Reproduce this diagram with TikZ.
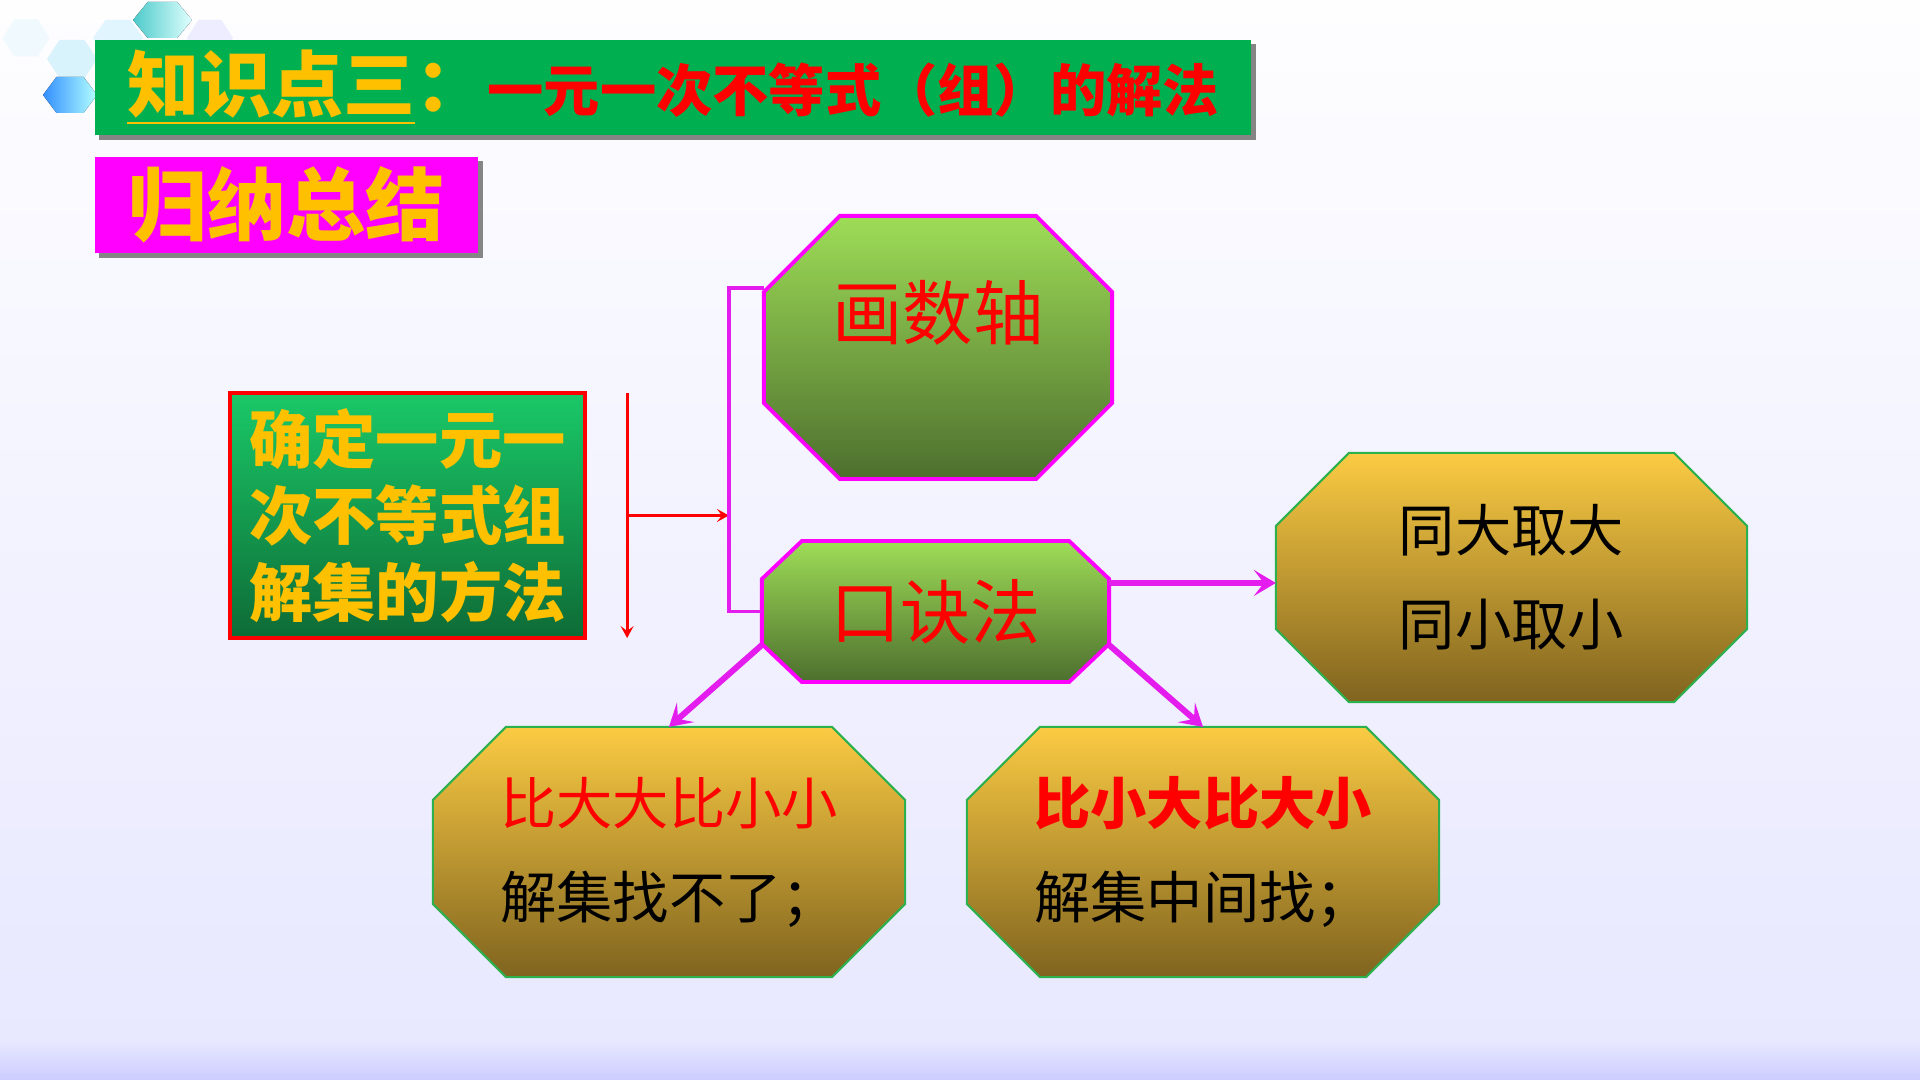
\documentclass[tikz,border=0pt]{standalone}
\usepackage{fontspec}
\setmainfont{Noto Sans CJK SC}
\usepackage{tikz}
\usetikzlibrary{arrows.meta,shadows}
\pgfdeclarelayer{bg}
\pgfsetlayers{bg,main}
\definecolor{ttlgreen}{HTML}{00B050}
\definecolor{ttlyellow}{HTML}{FFC000}
\definecolor{hotpink}{HTML}{FF00FF}
\definecolor{linkpink}{HTML}{E41CEE}
\definecolor{goldtop}{HTML}{FBCB43}
\definecolor{goldbot}{HTML}{80641F}
\definecolor{leaftop}{HTML}{9EDD57}
\definecolor{leafbot}{HTML}{4D6F2E}
\definecolor{mintop}{HTML}{1AC968}
\definecolor{minbot}{HTML}{0E6B36}
\definecolor{edgegreen}{HTML}{2DB04E}

\newcommand\octfill[4]{% node, chamfer x, chamfer y, style
  \path[#4] ([xshift=#2]#1.north west) -- ([xshift=-#2]#1.north east)
    -- ([yshift=-#3]#1.north east) -- ([yshift=#3]#1.south east)
    -- ([xshift=-#2]#1.south east) -- ([xshift=#2]#1.south west)
    -- ([yshift=#3]#1.south west) -- ([yshift=-#3]#1.north west) -- cycle;}
\newcommand\hexcell[5]{% centre x, centre y, half width, half height, style
  \fill[#5] ({#1-#3},#2) -- ({#1-#3/2},{#2-#4}) -- ({#1+#3/2},{#2-#4})
    -- ({#1+#3},#2) -- ({#1+#3/2},{#2+#4}) -- ({#1-#3/2},{#2+#4}) -- cycle;}

\begin{document}
\begin{tikzpicture}[x=0.01cm,y=-0.01cm,
  box/.style={inner sep=0pt,outer sep=0pt},
  banner/.style={box,drop shadow={shadow xshift=0.45mm,shadow yshift=-0.45mm,opacity=1,fill=black!48}},
  greenoct/.style={draw=hotpink,line width=1.1pt,top color=leaftop,bottom color=leafbot},
  goldoct/.style={draw=edgegreen,line width=0.6pt,top color=goldtop,bottom color=goldbot},
  bigred/.style={text=red,font=\fontsize{20}{24}\selectfont},
  twoline/.style={align=center,font=\fontsize{16}{26.7}\selectfont},
  link/.style={draw=linkpink,line width=1.7pt,-{Stealth[length=2.2mm,width=2.6mm,inset=1mm]}},
  redlink/.style={draw=red,line width=0.85pt,-{Stealth[length=1.2mm,width=1.3mm,inset=0.5mm]}}]
\useasboundingbox (0,0) rectangle (1920,1080);

\node[banner,fill=ttlgreen,minimum width=11.56cm,minimum height=0.95cm] (title) at (673,87.5)
  {\bfseries{\color{ttlyellow}\fontsize{20.5}{24}\selectfont\underline{知识点三}：}{\color{red}\fontsize{16}{20}\selectfont 一元一次不等式（组）的解法}};
\node[banner,fill=hotpink,minimum width=3.83cm,minimum height=0.96cm,text=ttlyellow,
  font=\bfseries\fontsize{22.5}{26}\selectfont] (summary) at (286.5,205) {归纳总结};
\node[box,draw=red,line width=1pt,top color=mintop,bottom color=minbot,minimum width=3.55cm,minimum height=2.45cm,
  align=center,text=ttlyellow,font=\bfseries\fontsize{18}{21.7}\selectfont] (way) at (407.5,515.5)
  {确定一元一\\次不等式组\\解集的方法};

\node[box,bigred,minimum width=3.48cm,minimum height=2.63cm] (axis) at (938,347.5) {\raisebox{0.75cm}{画数轴}};
\node[box,bigred,minimum width=3.47cm,minimum height=1.41cm] (rhyme) at (935.5,611.5) {口诀法};
\node[box,twoline,minimum width=4.71cm,minimum height=2.49cm] (same) at (1511.5,577.5) {同大取大\\同小取小};
\node[box,twoline,minimum width=4.72cm,minimum height=2.5cm] (none) at (669,852)
  {\textcolor{red}{比大大比小小}\\解集找不了；};
\node[box,twoline,minimum width=4.72cm,minimum height=2.5cm] (mid) at (1203,852)
  {\textcolor{red}{\bfseries 比小大比大小}\\解集中间找；};

\begin{pgfonlayer}{bg}
\fill[top color=white!60!blue!1,bottom color=blue!9!white] (0,0) rectangle (1920,1040);
\fill[top color=blue!9!white,bottom color=blue!20!white] (0,1040) rectangle (1920,1080);
\hexcell{26}{38}{23.5}{18.5}{cyan!6!white}
\hexcell{72}{59}{25}{19}{cyan!15!white}
\hexcell{118}{38}{25}{18}{cyan!12!white}
\hexcell{210}{38}{23}{18}{blue!7!white}
\hexcell{162.5}{20}{29.5}{18}{left color=teal!60!cyan!70!white,right color=cyan!12!white}
\hexcell{70}{95}{27}{18}{left color=blue!55!cyan!80!white,right color=cyan!30!white}
\octfill{axis}{7.6mm}{7.6mm}{greenoct}
\octfill{rhyme}{4mm}{3.8mm}{greenoct}
\octfill{same}{7.3mm}{7.3mm}{goldoct}
\octfill{none}{7.3mm}{7.3mm}{goldoct}
\octfill{mid}{7.3mm}{7.3mm}{goldoct}
\end{pgfonlayer}

\coordinate (bartop) at ([xshift=4.2mm]way.north east);
\coordinate (barbot) at ([xshift=4.2mm]way.south east);
\coordinate (brace) at ([xshift=-3.5mm,yshift=-7.2mm]axis.north west);
\draw[redlink] (bartop) -- (barbot);
\draw[redlink] (bartop |- way.east) -- (brace |- way.east);
\draw[draw=linkpink,line width=1.1pt] ([yshift=-7.2mm]axis.north west) -- (brace) |- (rhyme.west);
\draw[link] ([yshift=-4.2mm]rhyme.north east) -- ([yshift=-4.2mm]rhyme.north east -| same.west);
\draw[link] ([yshift=3.7mm]rhyme.south west) -- (none.north);
\draw[link] ([yshift=3.7mm]rhyme.south east) -- (mid.north);
\end{tikzpicture}
\end{document}
